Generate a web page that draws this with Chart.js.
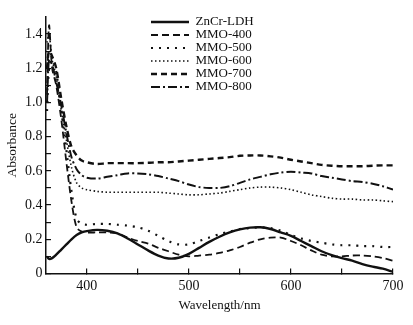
<!DOCTYPE html>
<html>
<head>
<meta charset="utf-8">
<script src="https://cdn.jsdelivr.net/npm/chart.js@4/dist/chart.umd.min.js"></script>
<style>
  html, body { margin: 0; padding: 0; background: #fff; }
  #uv { display: block; }
</style>
</head>
<body>
<canvas id="uv" width="413" height="325"></canvas>
<script>
// wavelength grid (nm) and absorbance
const wavelength = [361, 363, 366, 370, 375, 380, 385, 390, 395, 400,
  410, 420, 430, 440, 450, 460, 470, 480, 490, 500,
  510, 520, 530, 540, 550, 560, 570, 580, 590, 600,
  610, 620, 630, 640, 650, 660, 670, 680, 690, 700];

const znCrLdh = [0.10, 0.085, 0.09, 0.11, 0.14, 0.17, 0.20, 0.225, 0.24, 0.248,
  0.255, 0.25, 0.235, 0.205, 0.17, 0.135, 0.105, 0.088, 0.092, 0.115,
  0.15, 0.185, 0.215, 0.24, 0.258, 0.268, 0.27, 0.26, 0.24, 0.22,
  0.19, 0.16, 0.13, 0.108, 0.09, 0.075, 0.055, 0.04, 0.028, 0.01];

const mmo400 = [1.05, 1.45, 1.2, 1.1, 0.9, 0.65, 0.42, 0.27, 0.245, 0.24,
  0.24, 0.24, 0.235, 0.21, 0.19, 0.175, 0.15, 0.13, 0.11, 0.10,
  0.105, 0.11, 0.12, 0.135, 0.155, 0.18, 0.20, 0.21, 0.21, 0.19,
  0.165, 0.135, 0.11, 0.10, 0.10, 0.105, 0.105, 0.10, 0.09, 0.075];

const mmo500 = [0.95, 1.2, 1.25, 1.18, 0.95, 0.72, 0.48, 0.32, 0.29, 0.285,
  0.29, 0.29, 0.285, 0.28, 0.27, 0.25, 0.22, 0.19, 0.17, 0.17,
  0.19, 0.21, 0.23, 0.245, 0.26, 0.265, 0.27, 0.265, 0.25, 0.225,
  0.205, 0.19, 0.18, 0.17, 0.165, 0.165, 0.16, 0.16, 0.155, 0.155];

const mmo600 = [1.35, 1.4, 1.25, 1.15, 0.95, 0.78, 0.62, 0.53, 0.50, 0.49,
  0.48, 0.475, 0.475, 0.475, 0.475, 0.475, 0.475, 0.47, 0.465, 0.46,
  0.46, 0.465, 0.47, 0.48, 0.49, 0.50, 0.505, 0.505, 0.50, 0.49,
  0.475, 0.46, 0.45, 0.44, 0.435, 0.435, 0.43, 0.43, 0.425, 0.42];

const mmo700 = [1.2, 1.3, 1.27, 1.2, 1.02, 0.86, 0.74, 0.69, 0.66, 0.65,
  0.64, 0.645, 0.645, 0.645, 0.645, 0.647, 0.65, 0.65, 0.655, 0.66,
  0.665, 0.67, 0.675, 0.68, 0.688, 0.69, 0.69, 0.685, 0.677, 0.665,
  0.655, 0.645, 0.635, 0.63, 0.627, 0.627, 0.627, 0.63, 0.632, 0.632];

const mmo800 = [1.0, 1.25, 1.22, 1.12, 0.98, 0.82, 0.68, 0.61, 0.575, 0.56,
  0.555, 0.565, 0.575, 0.585, 0.585, 0.58, 0.57, 0.555, 0.54, 0.52,
  0.505, 0.50, 0.50, 0.51, 0.53, 0.55, 0.565, 0.58, 0.59, 0.595,
  0.59, 0.585, 0.57, 0.56, 0.55, 0.54, 0.535, 0.525, 0.51, 0.49];

const xTicks = [400, 450, 500, 550, 600, 650, 700];
const xTickLabels = ["400", "", "500", "", "600", "", "700"];
const yTicks = [0, 0.1, 0.2, 0.3, 0.4, 0.5, 0.6, 0.7, 0.8, 0.9, 1.0, 1.1, 1.2, 1.3, 1.4];
const yTickLabels = ["0", "", "0.2", "", "0.4", "", "0.6", "", "0.8", "", "1.0", "", "1.2", "", "1.4"];

const ink = "#111";
const serif = "'Liberation Serif', 'Times New Roman', serif";

const line = (label, data, width, dash, cap) => ({
  label: label,
  data: data,
  borderColor: ink,
  backgroundColor: ink,
  borderWidth: width,
  borderDash: dash,
  borderCapStyle: cap || "butt",
  pointRadius: 0,
  tension: 0.3,
  fill: false,
});

// put the legend where the figure has it, inside the plot
const legendSpot = {
  id: "legendSpot",
  afterLayout(chart) {
    chart.legend.left = 151;
    chart.legend.top = 15.5;
  },
};

new Chart(document.getElementById("uv"), {
  type: "line",
  data: {
    labels: wavelength,
    datasets: [
      line("ZnCr-LDH", znCrLdh, 2.4, []),
      line("MMO-400", mmo400, 1.8, [7, 4]),
      line("MMO-500", mmo500, 2.2, [2, 6]),
      line("MMO-600", mmo600, 1.6, [1.5, 2.5]),
      line("MMO-700", mmo700, 2.4, [6, 4]),
      line("MMO-800", mmo800, 2.0, [9, 3, 2, 3]),
    ],
  },
  options: {
    responsive: false,
    animation: false,
    layout: { padding: { top: 16, right: 15, left: 0, bottom: 0 } },
    plugins: {
      legend: {
        position: "chartArea",
        align: "start",
        labels: {
          usePointStyle: true,
          pointStyle: "line",
          pointStyleWidth: 38,
          padding: 0,
          color: ink,
          font: { family: serif, size: 13 },
          // legend samples take the dash of each line
          generateLabels: (chart) => chart.data.datasets.map((d, i) => ({
            text: d.label,
            strokeStyle: d.borderColor,
            fillStyle: d.borderColor,
            fontColor: ink,
            lineWidth: d.borderWidth,
            lineDash: d.borderDash,
            lineCap: d.borderCapStyle,
            pointStyle: "line",
            datasetIndex: i,
            hidden: false,
          })),
        },
      },
      tooltip: { enabled: false },
    },
    scales: {
      x: {
        type: "linear",
        min: 360,
        max: 700,
        afterFit: (s) => { s.height = 51.5; },
        afterBuildTicks: (s) => { s.ticks = xTicks.map((v) => ({ value: v })); },
        border: { color: ink, width: 1.5 },
        grid: { drawOnChartArea: false, color: ink, tickLength: -5, lineWidth: 1.2 },
        ticks: {
          autoSkip: false,
          maxRotation: 0,
          padding: 9.5,
          color: ink,
          font: { family: serif, size: 14 },
          callback: (v) => xTickLabels[xTicks.indexOf(v)] ?? "",
        },
        title: {
          display: true,
          text: "Wavelength/nm",
          color: ink,
          font: { family: serif, size: 13 },
          padding: { top: 0, bottom: 12 },
        },
      },
      y: {
        min: 0,
        max: 1.5,
        afterFit: (s) => { s.width = 46; },
        afterBuildTicks: (s) => { s.ticks = yTicks.map((v) => ({ value: v })); },
        border: { color: ink, width: 1.5 },
        grid: { drawOnChartArea: false, color: ink, tickLength: -5, lineWidth: 1.2 },
        ticks: {
          autoSkip: false,
          padding: 8.5,
          color: ink,
          font: { family: serif, size: 14 },
          callback: (v) => {
            const i = yTicks.findIndex((t) => Math.abs(t - v) < 1e-6);
            return i < 0 ? "" : yTickLabels[i];
          },
        },
        title: {
          display: true,
          text: "Absorbance",
          color: ink,
          font: { family: serif, size: 13.5 },
          padding: { top: 4, bottom: 0 },
        },
      },
    },
  },
  plugins: [legendSpot],
});
</script>
</body>
</html>
